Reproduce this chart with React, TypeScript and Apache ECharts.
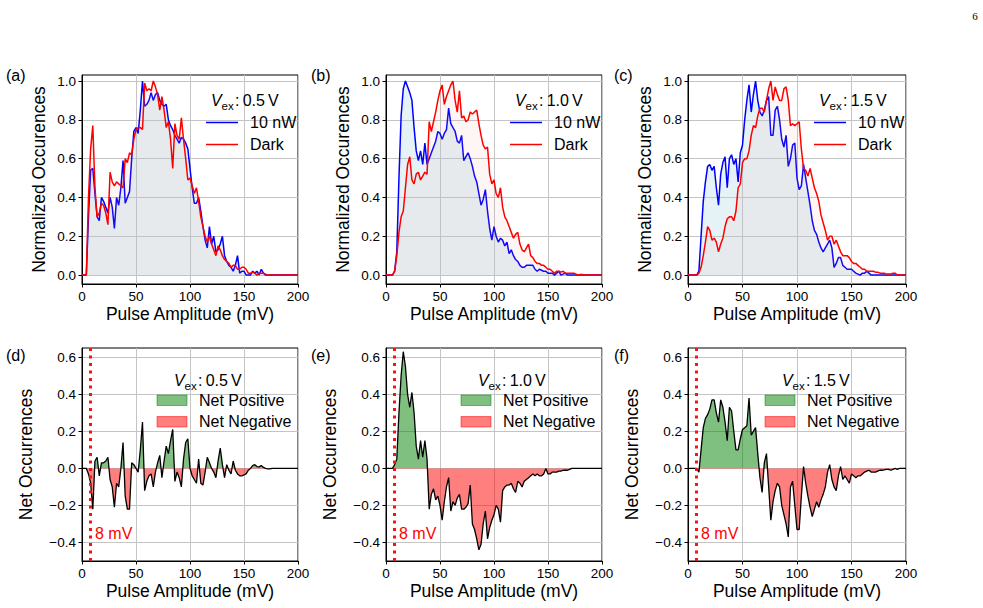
import React, { useEffect, useRef } from "react";
import * as echarts from "echarts";

// Pulse-amplitude bins (mV), 2 mV wide, 0..200
const xBins: number[] = Array.from({ length: 101 }, (_, i) => i * 2);
const topTickValues = [0, 0.2, 0.4, 0.6, 0.8, 1.0];
const bottomTickValues = [-0.4, -0.2, 0, 0.2, 0.4, 0.6];
const panelLetters = ["(a)", "(b)", "(c)", "(d)", "(e)", "(f)"];
const biasVoltages = ["0.5", "1.0", "1.5"];
const thresholdMv = 8;

// Normalized occurrences, V_ex = 0.5 V
const light05 = [
  0, 0, 0, 0.3, 0.54, 0.55, 0.42, 0.3, 0.28, 0.4,
  0.38, 0.35, 0.32, 0.4, 0.35, 0.24, 0.4, 0.36, 0.45, 0.59,
  0.37, 0.4, 0.43, 0.6, 0.74, 0.76, 0.73, 0.85, 1.0, 0.87,
  0.88, 0.9, 0.94, 0.9, 0.93, 0.94, 0.9, 0.88, 0.87, 0.88,
  0.8, 0.77, 0.75, 0.72, 0.7, 0.68, 0.71, 0.7, 0.68, 0.65,
  0.55, 0.45, 0.37, 0.37, 0.4, 0.33, 0.25, 0.18, 0.14, 0.25,
  0.16, 0.2, 0.12, 0.13, 0.16, 0.2, 0.1, 0.07, 0.05, 0.04,
  0.02, 0.05, 0.1, 0.01, 0.02, 0.02, 0, 0, 0, 0.02,
  0.01, 0.02, 0, 0.03, 0.01, 0, 0, 0, 0, 0,
  0, 0, 0, 0, 0, 0, 0, 0, 0, 0,
  0,
];
const dark05 = [
  0, 0, 0, 0.4, 0.65, 0.77, 0.45, 0.3, 0.32, 0.37,
  0.36, 0.32, 0.26, 0.53, 0.48, 0.46, 0.48, 0.47, 0.46, 0.45,
  0.6, 0.58, 0.63, 0.62, 0.7, 0.75, 0.76, 0.76, 0.75, 0.99,
  0.95, 0.96, 0.95, 1.0, 0.97, 0.93, 0.85, 0.92, 0.85, 0.76,
  0.79, 0.7, 0.55, 0.78, 0.72, 0.7, 0.81, 0.7, 0.6, 0.49,
  0.5, 0.46, 0.42, 0.45, 0.38, 0.3, 0.25, 0.2, 0.17, 0.2,
  0.16, 0.13, 0.1, 0.15, 0.13, 0.1, 0.08, 0.07, 0.06, 0.04,
  0.05, 0.05, 0.03, 0.03, 0.04, 0.04, 0.03, 0.01, 0.01, 0.015,
  0.01, 0, 0.01, 0.01, 0.01, 0.005, 0, 0, 0, 0,
  0, 0, 0, 0, 0, 0, 0, 0, 0, 0,
  0,
];
// V_ex = 1.0 V
const light10 = [
  0, 0, 0, 0, 0.02, 0.12, 0.5, 0.82, 0.96, 1.0,
  0.97, 0.94, 0.9, 0.76, 0.64, 0.59, 0.64, 0.57, 0.68, 0.57,
  0.6, 0.63, 0.66, 0.69, 0.74, 0.73, 0.7, 0.73, 0.75, 0.86,
  0.78, 0.76, 0.74, 0.69, 0.68, 0.72, 0.59, 0.61, 0.63, 0.6,
  0.56, 0.51, 0.48, 0.42, 0.36, 0.39, 0.44, 0.33, 0.24, 0.18,
  0.25, 0.2, 0.17, 0.19, 0.18, 0.15, 0.17, 0.11, 0.13, 0.1,
  0.08, 0.07, 0.05, 0.04, 0.04, 0.05, 0.05, 0.05, 0.05, 0.03,
  0.02, 0.03, 0.025, 0.02, 0.02, 0.01, 0.01, 0.01, 0, 0.01,
  0.02, 0, 0.005, 0.01, 0, 0, 0, 0, 0, 0,
  0, 0, 0, 0, 0, 0, 0, 0, 0, 0,
  0,
];
const dark10 = [
  0, 0, 0, 0, 0.02, 0.1, 0.22, 0.3, 0.33, 0.45,
  0.57, 0.61, 0.49, 0.47, 0.52, 0.53, 0.49, 0.51, 0.53, 0.52,
  0.79, 0.74, 0.79, 0.84, 0.9, 0.95, 0.98, 0.88, 0.92, 0.95,
  0.98, 1.0, 0.9, 0.84, 0.95, 0.81, 0.82, 0.79, 0.8, 0.84,
  0.83, 0.84, 0.85, 0.78, 0.72, 0.67, 0.65, 0.66, 0.52, 0.47,
  0.49, 0.42, 0.4, 0.45, 0.35, 0.3, 0.28, 0.25, 0.22, 0.19,
  0.21, 0.22, 0.16, 0.13, 0.12, 0.14, 0.16, 0.1, 0.09, 0.07,
  0.06, 0.06, 0.05, 0.05, 0.04, 0.03, 0.03, 0.02, 0.01, 0.02,
  0.02, 0.015, 0.02, 0.01, 0.01, 0.01, 0.01, 0.01, 0.005, 0,
  0.003, 0.003, 0, 0, 0, 0, 0, 0, 0, 0,
  0,
];
// V_ex = 1.5 V
const light15 = [
  0, 0, 0, 0, 0, 0.02, 0.2, 0.38, 0.48, 0.56,
  0.57, 0.54, 0.56, 0.45, 0.36, 0.52, 0.58, 0.61, 0.45, 0.6,
  0.62, 0.57, 0.6, 0.48, 0.63, 0.67, 0.8, 0.9, 0.98, 0.84,
  0.93, 1.0, 0.9, 0.84, 0.82, 0.85, 0.9, 0.92, 0.72, 0.72,
  0.85, 0.87, 0.8, 0.7, 0.66, 0.72, 0.56, 0.6, 0.67, 0.68,
  0.5, 0.44, 0.46, 0.57, 0.5, 0.43, 0.36, 0.28, 0.23, 0.21,
  0.17, 0.14, 0.12, 0.14, 0.16, 0.18, 0.14, 0.04, 0.06, 0.09,
  0.09, 0.05, 0.04, 0.03, 0.03, 0.03, 0.02, 0.01, 0.005, 0,
  0.01, 0.01, 0.02, 0.01, 0, 0, 0, 0, 0, 0,
  0, 0, 0, 0, 0, 0, 0, 0, 0, 0,
  0,
];
const dark15 = [
  0, 0, 0, 0, 0, 0.01, 0.04, 0.1, 0.17, 0.25,
  0.23, 0.18, 0.19, 0.17, 0.12, 0.16, 0.19, 0.25, 0.29, 0.3,
  0.3, 0.28, 0.33, 0.45, 0.47, 0.58, 0.6, 0.6, 0.64, 0.72,
  0.77, 0.76, 0.82, 0.86, 0.86, 0.84, 0.9, 0.96, 1.0, 0.9,
  0.97, 0.93, 0.9, 0.9, 0.96, 0.97, 0.9, 0.77, 0.78, 0.77,
  0.78, 0.79, 0.65, 0.55, 0.54, 0.51, 0.55, 0.5, 0.45, 0.42,
  0.38, 0.31, 0.27, 0.23, 0.18, 0.2, 0.2, 0.16, 0.18, 0.15,
  0.12, 0.1, 0.1, 0.1, 0.09, 0.07, 0.06, 0.06, 0.05, 0.04,
  0.03, 0.03, 0.02, 0.02, 0.02, 0.02, 0.015, 0.015, 0.01, 0.01,
  0.01, 0.005, 0.005, 0.005, 0.01, 0.01, 0, 0, 0, 0,
  0,
];

// Net occurrences (10 nW minus dark)
const net05 = [
  0, 0, 0, -0.03, -0.08, -0.22, 0.04, 0.06, -0.04, 0.03,
  0.03, 0.04, 0.06, -0.06, -0.1, -0.21, -0.08, -0.1, 0, 0.14,
  -0.15, -0.22, -0.22, 0.03, 0.02, 0, -0.02, 0.1, 0.25, -0.12,
  -0.07, -0.04, -0.03, -0.1, -0.02, 0.03, 0.07, -0.05, 0.04, 0.12,
  0.08, 0.15, 0.21, -0.07, -0.02, -0.05, -0.1, 0.05, 0.14, 0.16,
  0, -0.04, -0.06, -0.08, 0.05, -0.08, -0.09, -0.02, 0.06, 0.03,
  0, -0.02, -0.05, 0.04, 0.11, 0.02, -0.05, 0.02, -0.01, -0.03,
  0.04, -0.01, -0.03, -0.04, -0.04, -0.035, -0.03, -0.01, 0, 0.015,
  0.02, 0.01, 0.008, 0.015, 0.005, 0, -0.003, -0.003, 0, 0,
  0, 0, 0, 0, 0, 0, 0, 0, 0, 0,
  0,
];
const net10 = [
  0, 0, 0, 0, 0.02, 0.05, 0.3, 0.5, 0.63, 0.55,
  0.4, 0.33, 0.41, 0.3, 0.12, 0.05, 0.15, 0.06, 0.15, 0.05,
  -0.22, -0.14, -0.11, -0.17, -0.15, -0.2, -0.28, -0.18, -0.1, -0.05,
  -0.23, -0.18, -0.2, -0.16, -0.14, -0.22, -0.22, -0.21, -0.19, -0.09,
  -0.3, -0.33, -0.38, -0.44, -0.41, -0.3, -0.23, -0.38, -0.32, -0.28,
  -0.25, -0.2, -0.22, -0.29, -0.12, -0.1, -0.09, -0.09, -0.08, -0.11,
  -0.13, -0.07, -0.08, -0.1, -0.07, -0.06, -0.05, -0.04, -0.03, -0.04,
  -0.03, -0.04, -0.04, -0.03, 0, -0.03, -0.03, -0.02, -0.02, -0.02,
  -0.015, -0.015, -0.01, -0.01, -0.01, -0.005, 0, 0, 0, 0,
  0, 0, 0, 0, 0, 0, 0, 0, 0, 0,
  0,
];
const net15 = [
  0, 0, 0, 0, 0, -0.02, 0.1, 0.22, 0.27, 0.29,
  0.32, 0.37, 0.37, 0.3, 0.25, 0.37, 0.33, 0.25, 0.15, 0.33,
  0.31, 0.2, 0.1, 0.1, 0.16, 0.21, 0.22, 0.23, 0.38, 0.18,
  0.2, 0.22, 0.08, -0.05, -0.13, 0.03, 0.08, -0.1, -0.28, -0.18,
  -0.12, -0.08, -0.1, -0.2, -0.25, -0.3, -0.37, -0.1, -0.07, -0.2,
  -0.33, -0.33, -0.15, 0.01, -0.08, -0.15, -0.21, -0.26, -0.22, -0.18,
  -0.21, -0.17, -0.14, -0.1, -0.02, 0.02, -0.06, -0.1, -0.12, -0.04,
  0.01, -0.06, -0.04, -0.06, -0.08, -0.03, -0.04, -0.05, -0.04, -0.04,
  -0.03, -0.02, -0.015, -0.01, -0.02, -0.02, -0.02, -0.015, -0.01, -0.01,
  -0.008, -0.005, -0.005, -0.01, -0.005, 0, -0.005, 0, 0, 0,
  0,
];

const lightSets = [light05, light10, light15];
const darkSets = [dark05, dark10, dark15];
const netSets = [net05, net10, net15];

// Layout (pixels)
const LEFTS = [82, 386, 688];
const WIDTHS = [216, 216, 218];
const TOP_Y = 75;
const TOP_H = 209;
const BOT_Y = 348;
const BOT_H = 213;
const FONT = "'Liberation Sans', Arial, Helvetica, sans-serif";
const TICK_FONT = 13.5;
const NAME_FONT = 17.5;

const fmtTick = (v: number) => (v < -1e-9 ? "\u2212" : "") + Math.abs(v).toFixed(1);
const pairs = (ys: number[]) => xBins.map((x, i) => [x, ys[i]]);

function buildOption() {
  const grid: any[] = [];
  const xAxis: any[] = [];
  const yAxis: any[] = [];
  const series: any[] = [];
  const graphic: any[] = [];
  const areaIdx: number[] = [];

  const txt = (x: number, y: number, text: string, extra: any = {}) => ({
    type: "text",
    x,
    y,
    z: 100,
    silent: true,
    style: {
      text,
      fontFamily: FONT,
      fontSize: 16,
      fill: "#000",
      align: "left",
      verticalAlign: "middle",
      ...extra,
    },
  });

  const vexLabel = (x: number, y: number, volt: string) => [
    txt(x, y, "V", { fontStyle: "italic" }),
    txt(x + 10.5, y + 5.5, "ex", { fontSize: 11.5 }),
    txt(x + 24, y, ":\u2009" + volt + "\u2009V"),
  ];

  for (let row = 0; row < 2; row++) {
    for (let col = 0; col < 3; col++) {
      const p = row * 3 + col;
      const left = LEFTS[col];
      const width = WIDTHS[col];
      const right = left + width;
      const top = row === 0 ? TOP_Y : BOT_Y;
      const height = row === 0 ? TOP_H : BOT_H;
      grid.push({
        left,
        top,
        width,
        height,
        show: true,
        borderColor: "#000",
        borderWidth: 1,
        backgroundColor: "transparent",
        containLabel: false,
      });
      xAxis.push({
        gridIndex: p,
        type: "value",
        min: 0,
        max: 200,
        interval: 50,
        name: "Pulse Amplitude (mV)",
        nameLocation: "middle",
        nameGap: 21,
        nameTextStyle: { fontSize: NAME_FONT, color: "#000", fontFamily: FONT },
        axisLine: { show: true, onZero: false, lineStyle: { color: "#000", width: 1 } },
        axisTick: { show: true, length: 3.5, lineStyle: { color: "#000", width: 1 } },
        axisLabel: {
          fontSize: TICK_FONT,
          color: "#000",
          margin: 5,
          fontFamily: FONT,
        },
        splitLine: { show: true, lineStyle: { color: "#c4c4c4", width: 1 } },
      });
      const ticks = row === 0 ? topTickValues : bottomTickValues;
      yAxis.push({
        gridIndex: p,
        type: "value",
        min: row === 0 ? -0.046 : -0.5,
        max: row === 0 ? 1.031 : 0.65,
        name: row === 0 ? "Normalized Occurences" : "Net Occurrences",
        nameLocation: "middle",
        nameGap: row === 0 ? 34 : 47,
        nameTextStyle: { fontSize: NAME_FONT, color: "#000", fontFamily: FONT },
        axisLine: { show: true, onZero: false, lineStyle: { color: "#000", width: 1 } },
        axisTick: {
          show: true,
          length: 3.5,
          lineStyle: { color: "#000", width: 1 },
          customValues: ticks,
        },
        axisLabel: {
          fontSize: TICK_FONT,
          color: "#000",
          margin: 6,
          fontFamily: FONT,
          customValues: ticks,
          formatter: (v: number) => fmtTick(v),
        },
        splitLine: { show: true, lineStyle: { color: "#c4c4c4", width: 1 } },
      });

      const letterX = col === 0 ? 6 : col === 1 ? 311 : 614;
      graphic.push(txt(letterX, row === 0 ? 75 : 355, panelLetters[p]));

      if (row === 0) {
        series.push({
          type: "line",
          name: "10 nW",
          xAxisIndex: p,
          yAxisIndex: p,
          data: pairs(lightSets[col]),
          symbol: "none",
          lineStyle: { color: "#0000ff", width: 1.5 },
          itemStyle: { color: "#0000ff" },
          areaStyle: { color: "rgba(173,216,230,0.45)" },
          z: 2,
          silent: true,
        });
        series.push({
          type: "line",
          name: "Dark",
          xAxisIndex: p,
          yAxisIndex: p,
          data: pairs(darkSets[col]),
          symbol: "none",
          lineStyle: { color: "#ff0000", width: 1.5 },
          itemStyle: { color: "#ff0000" },
          areaStyle: { color: "rgba(240,128,128,0.12)" },
          z: 3,
          silent: true,
        });
        graphic.push(...vexLabel(right - 87, 100.5, biasVoltages[col]));
        graphic.push({
          type: "line",
          z: 100,
          silent: true,
          shape: { x1: right - 92, y1: 122.5, x2: right - 60, y2: 122.5 },
          style: { stroke: "#0000ff", lineWidth: 1.5 },
        });
        graphic.push(txt(right - 48, 122.5, "10 nW"));
        graphic.push({
          type: "line",
          z: 100,
          silent: true,
          shape: { x1: right - 92, y1: 144.5, x2: right - 60, y2: 144.5 },
          style: { stroke: "#ff0000", lineWidth: 1.5 },
        });
        graphic.push(txt(right - 48, 144.5, "Dark"));
      } else {
        areaIdx.push(series.length);
        series.push({
          type: "line",
          name: "net-area-" + col,
          xAxisIndex: p,
          yAxisIndex: p,
          data: pairs(netSets[col]),
          symbol: "none",
          lineStyle: { width: 0 },
          areaStyle: { opacity: 0.5 },
          z: 2,
          silent: true,
        });
        series.push({
          type: "line",
          name: "net-line-" + col,
          xAxisIndex: p,
          yAxisIndex: p,
          data: pairs(netSets[col]),
          symbol: "none",
          lineStyle: { color: "#000", width: 1.3 },
          itemStyle: { color: "#000" },
          z: 3,
          silent: true,
          markLine: {
            silent: true,
            symbol: ["none", "none"],
            label: { show: false },
            lineStyle: { color: "#ff1010", width: 3, type: [3, 4.5], cap: "butt", opacity: 1 },
            data: [{ xAxis: thresholdMv }],
          },
        });
        graphic.push(...vexLabel(right - 124, 380, biasVoltages[col]));
        graphic.push({
          type: "rect",
          z: 100,
          silent: true,
          shape: { x: right - 141, y: 395, width: 30, height: 10.5 },
          style: { fill: "rgba(0,128,0,0.5)", stroke: "rgba(0,128,0,0.5)", lineWidth: 1 },
        });
        graphic.push(txt(right - 99, 400.5, "Net Positive"));
        graphic.push({
          type: "rect",
          z: 100,
          silent: true,
          shape: { x: right - 141, y: 416.5, width: 30, height: 10.5 },
          style: { fill: "rgba(255,0,0,0.5)", stroke: "rgba(255,0,0,0.5)", lineWidth: 1 },
        });
        graphic.push(txt(right - 99, 421.5, "Net Negative"));
        graphic.push(txt(left + 13, 533, thresholdMv + " mV", { fill: "#ff0000" }));
      }
    }
  }

  graphic.push({
    type: "text",
    x: 975,
    y: 16,
    z: 100,
    silent: true,
    style: {
      text: "6",
      fontFamily: "'Liberation Serif', 'Times New Roman', serif",
      fontSize: 11,
      fill: "#000",
      align: "center",
      verticalAlign: "middle",
    },
  });

  return {
    animation: false,
    backgroundColor: "#ffffff",
    textStyle: { fontFamily: FONT },
    grid,
    xAxis,
    yAxis,
    visualMap: [
      {
        type: "piecewise",
        show: false,
        seriesIndex: areaIdx,
        dimension: 1,
        pieces: [
          { min: -0.6, max: 0, color: "#ff0000" },
          { min: 0, max: 0.7, color: "#008000" },
        ],
      },
    ],
    series,
    graphic,
  };
}

export default function App() {
  const ref = useRef<HTMLDivElement | null>(null);
  useEffect(() => {
    if (!ref.current) return;
    const chart = echarts.init(ref.current, undefined, { renderer: "svg" });
    chart.setOption(buildOption() as any);
    return () => chart.dispose();
  }, []);
  return (
    <div
      ref={ref}
      style={{ position: "absolute", left: 0, top: 0, width: 983, height: 608, background: "#fff" }}
    />
  );
}
